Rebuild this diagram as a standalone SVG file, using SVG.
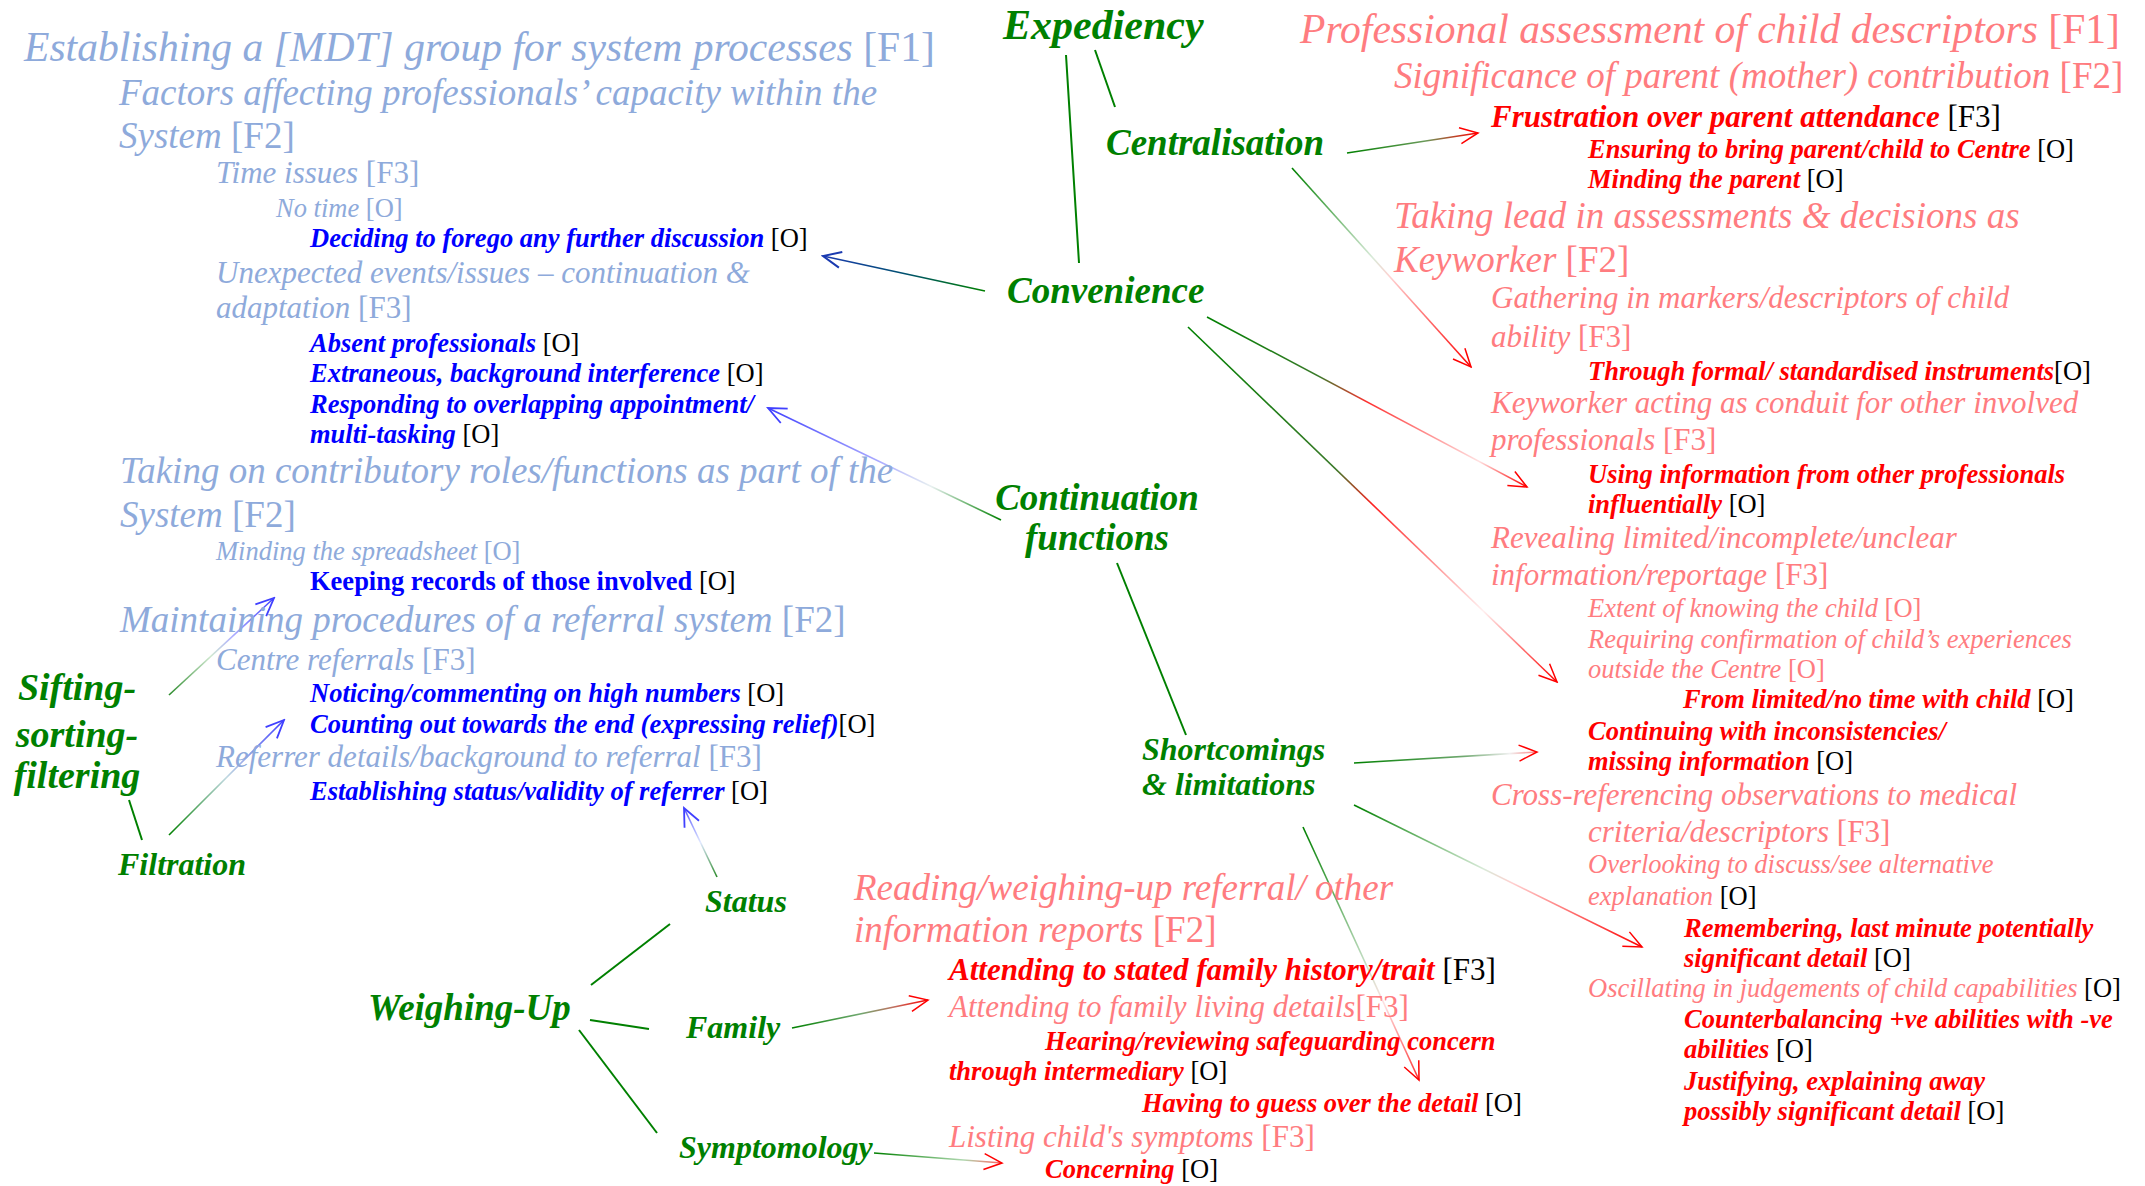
<svg xmlns="http://www.w3.org/2000/svg" width="2145" height="1186" viewBox="0 0 2145 1186">
<style>
text{font-family:"Liberation Serif","Times New Roman",serif;font-style:italic}
.n{font-style:normal;font-weight:normal}
.k{font-style:normal;font-weight:normal;fill:#000}
.lb{fill:#8EAADB}
.lr{fill:#FF7C80}
.f1{font-size:41.6px}
.f2{font-size:37px}
.f3{font-size:31px}
.o{font-size:26.5px}
.bb{fill:#0000FF;font-weight:bold;font-size:26.5px}
.br{fill:#FF0000;font-weight:bold;font-size:26.5px}
.g{fill:#008000;font-weight:bold}
.gl{stroke:#008000;stroke-width:2;fill:none}
.c{stroke-width:1.6;fill:none}
</style>
<defs>
<marker id="aR" markerUnits="userSpaceOnUse" viewBox="-20 -10 22 20" refX="0" refY="0" markerWidth="22" markerHeight="20" orient="auto"><path d="M-18,-8 L0,0 L-18,8" fill="none" stroke="#FF0000" stroke-width="1.5"/></marker>
<marker id="aB" markerUnits="userSpaceOnUse" viewBox="-20 -10 22 20" refX="0" refY="0" markerWidth="22" markerHeight="20" orient="auto"><path d="M-18,-8 L0,0 L-18,8" fill="none" stroke="#4040FF" stroke-width="1.8"/></marker>
<marker id="aD" markerUnits="userSpaceOnUse" viewBox="-20 -10 22 20" refX="0" refY="0" markerWidth="22" markerHeight="20" orient="auto"><path d="M-18,-8 L0,0 L-18,8" fill="none" stroke="#1A3AB0" stroke-width="2"/></marker>
<linearGradient id="g1" gradientUnits="userSpaceOnUse" x1="1347" y1="153" x2="1478" y2="133"><stop offset="0" stop-color="#008000"/><stop offset="0.6" stop-color="#6a9a5a"/><stop offset="1" stop-color="#FF0000"/></linearGradient>
<linearGradient id="g2" gradientUnits="userSpaceOnUse" x1="1292" y1="168" x2="1471" y2="367"><stop offset="0" stop-color="#008000"/><stop offset="0.45" stop-color="#d8ead8"/><stop offset="0.55" stop-color="#ffd0d0"/><stop offset="1" stop-color="#FF0000"/></linearGradient>
<linearGradient id="g3" gradientUnits="userSpaceOnUse" x1="1207" y1="317" x2="1527" y2="487"><stop offset="0" stop-color="#008000"/><stop offset="0.35" stop-color="#3a7a2a"/><stop offset="0.5" stop-color="#FF3030"/><stop offset="0.85" stop-color="#ffe0e0"/><stop offset="1" stop-color="#FF0000"/></linearGradient>
<linearGradient id="g4" gradientUnits="userSpaceOnUse" x1="1188" y1="327" x2="1557" y2="682"><stop offset="0" stop-color="#008000"/><stop offset="0.4" stop-color="#3a7a2a"/><stop offset="0.5" stop-color="#FF2020"/><stop offset="0.8" stop-color="#fff0f0"/><stop offset="1" stop-color="#FF0000"/></linearGradient>
<linearGradient id="g5" gradientUnits="userSpaceOnUse" x1="1354" y1="763" x2="1537" y2="752"><stop offset="0" stop-color="#008000"/><stop offset="0.6" stop-color="#70a870"/><stop offset="0.85" stop-color="#f0f0f0"/><stop offset="1" stop-color="#ff8080"/></linearGradient>
<linearGradient id="g6" gradientUnits="userSpaceOnUse" x1="1354" y1="805" x2="1642" y2="947"><stop offset="0" stop-color="#008000"/><stop offset="0.45" stop-color="#d8ead8"/><stop offset="0.55" stop-color="#ffd0d0"/><stop offset="1" stop-color="#FF0000"/></linearGradient>
<linearGradient id="g7" gradientUnits="userSpaceOnUse" x1="1303" y1="827" x2="1419" y2="1080"><stop offset="0" stop-color="#008000"/><stop offset="0.55" stop-color="#c8e0c8"/><stop offset="0.7" stop-color="#ffe0e0"/><stop offset="1" stop-color="#FF3030"/></linearGradient>
<linearGradient id="g8" gradientUnits="userSpaceOnUse" x1="792" y1="1028" x2="928" y2="1000"><stop offset="0" stop-color="#008000"/><stop offset="0.5" stop-color="#70a870"/><stop offset="0.75" stop-color="#c07060"/><stop offset="1" stop-color="#FF0000"/></linearGradient>
<linearGradient id="g9" gradientUnits="userSpaceOnUse" x1="874" y1="1153" x2="1002" y2="1163"><stop offset="0" stop-color="#008000"/><stop offset="0.7" stop-color="#b0d8b0"/><stop offset="1" stop-color="#FF6060"/></linearGradient>
<linearGradient id="g10" gradientUnits="userSpaceOnUse" x1="985" y1="291" x2="823" y2="256"><stop offset="0" stop-color="#008000"/><stop offset="0.5" stop-color="#005070"/><stop offset="1" stop-color="#1A3AB0"/></linearGradient>
<linearGradient id="g11" gradientUnits="userSpaceOnUse" x1="1001" y1="520" x2="768" y2="408"><stop offset="0" stop-color="#008000"/><stop offset="0.3" stop-color="#e8f0f0"/><stop offset="0.5" stop-color="#b0b0ff"/><stop offset="1" stop-color="#4040FF"/></linearGradient>
<linearGradient id="g12" gradientUnits="userSpaceOnUse" x1="169" y1="695" x2="274" y2="598"><stop offset="0" stop-color="#2a8a2a"/><stop offset="0.4" stop-color="#d0e8d0"/><stop offset="0.6" stop-color="#b0b0ff"/><stop offset="1" stop-color="#4040FF"/></linearGradient>
<linearGradient id="g13" gradientUnits="userSpaceOnUse" x1="169" y1="835" x2="284" y2="720"><stop offset="0" stop-color="#008000"/><stop offset="0.5" stop-color="#c0d8e0"/><stop offset="1" stop-color="#4040FF"/></linearGradient>
<linearGradient id="g14" gradientUnits="userSpaceOnUse" x1="717" y1="877" x2="684" y2="808"><stop offset="0" stop-color="#2a8a2a"/><stop offset="0.5" stop-color="#e0e8ff"/><stop offset="1" stop-color="#5050FF"/></linearGradient>
</defs>

<g id="connectors">
<line class="gl" x1="1066" y1="55" x2="1079" y2="263"/>
<line class="gl" x1="1095" y1="50" x2="1115" y2="107"/>
<line class="gl" x1="1117" y1="563" x2="1186" y2="735"/>
<line class="gl" x1="129" y1="800" x2="142" y2="840"/>
<line class="gl" x1="591" y1="985" x2="670" y2="924"/>
<line class="gl" x1="590" y1="1020" x2="649" y2="1029"/>
<line class="gl" x1="579" y1="1030" x2="657" y2="1133"/>
<line class="c" stroke="url(#g1)" x1="1347" y1="153" x2="1478" y2="133" marker-end="url(#aR)"/>
<line class="c" stroke="url(#g2)" x1="1292" y1="168" x2="1471" y2="367" marker-end="url(#aR)"/>
<line class="c" stroke="url(#g3)" x1="1207" y1="317" x2="1527" y2="487" marker-end="url(#aR)"/>
<line class="c" stroke="url(#g4)" x1="1188" y1="327" x2="1557" y2="682" marker-end="url(#aR)"/>
<line class="c" stroke="url(#g5)" x1="1354" y1="763" x2="1537" y2="752" marker-end="url(#aR)"/>
<line class="c" stroke="url(#g6)" x1="1354" y1="805" x2="1642" y2="947" marker-end="url(#aR)"/>
<line class="c" stroke="url(#g7)" x1="1303" y1="827" x2="1419" y2="1080" marker-end="url(#aR)"/>
<line class="c" stroke="url(#g8)" x1="792" y1="1028" x2="928" y2="1000" marker-end="url(#aR)"/>
<line class="c" stroke="url(#g9)" x1="874" y1="1153" x2="1002" y2="1163" marker-end="url(#aR)"/>
<line class="c" stroke="url(#g10)" stroke-width="2.2" x1="985" y1="291" x2="823" y2="256" marker-end="url(#aD)"/>
<line class="c" stroke="url(#g11)" x1="1001" y1="520" x2="768" y2="408" marker-end="url(#aB)"/>
<line class="c" stroke="url(#g12)" x1="169" y1="695" x2="274" y2="598" marker-end="url(#aB)"/>
<line class="c" stroke="url(#g13)" x1="169" y1="835" x2="284" y2="720" marker-end="url(#aB)"/>
<line class="c" stroke="url(#g14)" x1="717" y1="877" x2="684" y2="808" marker-end="url(#aB)"/>
</g>

<g id="node-establishing-mdt">
<text class="lb f1" x="24" y="61">Establishing a [MDT] group for system processes <tspan class="n">[F1]</tspan></text>
<text class="lb f2" x="119" y="105">Factors affecting professionals’ capacity within the</text>
<text class="lb f2" x="119" y="148">System <tspan class="n">[F2]</tspan></text>
<text class="lb f3" x="216" y="183">Time issues <tspan class="n">[F3]</tspan></text>
<text class="lb o" x="276" y="217">No time <tspan class="n">[O]</tspan></text>
<text class="bb" x="310" y="247">Deciding to forego any further discussion<tspan class="k"> [O]</tspan></text>
<text class="lb f3" x="216" y="283">Unexpected events/issues – continuation &amp;</text>
<text class="lb f3" x="216" y="318">adaptation <tspan class="n">[F3]</tspan></text>
<text class="bb" x="310" y="352">Absent professionals<tspan class="k"> [O]</tspan></text>
<text class="bb" x="310" y="382">Extraneous, background interference<tspan class="k"> [O]</tspan></text>
<text class="bb" x="310" y="413">Responding to overlapping appointment/</text>
<text class="bb" x="310" y="443">multi-tasking<tspan class="k"> [O]</tspan></text>
<text class="lb f2" x="120" y="483">Taking on contributory roles/functions as part of the</text>
<text class="lb f2" x="120" y="527">System <tspan class="n">[F2]</tspan></text>
<text class="lb o" x="216" y="560">Minding the spreadsheet <tspan class="n">[O]</tspan></text>
<text class="bb" x="310" y="590" style="font-style:normal">Keeping records of those involved<tspan class="k"> [O]</tspan></text>
<text class="lb f2" x="120" y="632">Maintaining procedures of a referral system <tspan class="n">[F2]</tspan></text>
<text class="lb f3" x="216" y="670">Centre referrals <tspan class="n">[F3]</tspan></text>
<text class="bb" x="310" y="702">Noticing/commenting on high numbers<tspan class="k"> [O]</tspan></text>
<text class="bb" x="310" y="733">Counting out towards the end (expressing relief)<tspan class="k">[O]</tspan></text>
<text class="lb f3" x="216" y="767">Referrer details/background to referral <tspan class="n">[F3]</tspan></text>
<text class="bb" x="310" y="800">Establishing status/validity of referrer<tspan class="k"> [O]</tspan></text>
</g>

<g id="node-professional-assessment">
<text class="lr f1" x="1300" y="43">Professional assessment of child descriptors <tspan class="n">[F1]</tspan></text>
<text class="lr f2" x="1394" y="88">Significance of parent (mother) contribution <tspan class="n">[F2]</tspan></text>
<text class="br" style="font-size:31px" x="1491" y="127">Frustration over parent attendance<tspan class="k"> [F3]</tspan></text>
<text class="br" x="1588" y="158">Ensuring to bring parent/child to Centre<tspan class="k"> [O]</tspan></text>
<text class="br" x="1588" y="188">Minding the parent<tspan class="k"> [O]</tspan></text>
<text class="lr f2" x="1394" y="228">Taking lead in assessments &amp; decisions as</text>
<text class="lr f2" x="1394" y="272">Keyworker <tspan class="n">[F2]</tspan></text>
<text class="lr f3" x="1491" y="308">Gathering in markers/descriptors of child</text>
<text class="lr f3" x="1491" y="347">ability <tspan class="n">[F3]</tspan></text>
<text class="br" x="1588" y="380">Through formal/ standardised instruments<tspan class="k">[O]</tspan></text>
<text class="lr f3" x="1491" y="413">Keyworker acting as conduit for other involved</text>
<text class="lr f3" x="1491" y="450">professionals <tspan class="n">[F3]</tspan></text>
<text class="br" x="1588" y="483">Using information from other professionals</text>
<text class="br" x="1588" y="513">influentially<tspan class="k"> [O]</tspan></text>
<text class="lr f3" x="1491" y="548">Revealing limited/incomplete/unclear</text>
<text class="lr f3" x="1491" y="585">information/reportage <tspan class="n">[F3]</tspan></text>
<text class="lr o" x="1588" y="617">Extent of knowing the child <tspan class="n">[O]</tspan></text>
<text class="lr o" x="1588" y="648">Requiring confirmation of child’s experiences</text>
<text class="lr o" x="1588" y="678">outside the Centre <tspan class="n">[O]</tspan></text>
<text class="br" x="1683" y="708">From limited/no time with child<tspan class="k"> [O]</tspan></text>
<text class="br" x="1588" y="740">Continuing with inconsistencies/</text>
<text class="br" x="1588" y="770">missing information<tspan class="k"> [O]</tspan></text>
<text class="lr f3" x="1491" y="805">Cross-referencing observations to medical</text>
<text class="lr f3" x="1588" y="842">criteria/descriptors <tspan class="n">[F3]</tspan></text>
<text class="lr o" x="1588" y="873">Overlooking to discuss/see alternative</text>
<text class="lr o" x="1588" y="905">explanation<tspan class="k"> [O]</tspan></text>
<text class="br" x="1684" y="937">Remembering, last minute potentially</text>
<text class="br" x="1684" y="967">significant detail<tspan class="k"> [O]</tspan></text>
<text class="lr o" x="1588" y="997">Oscillating in judgements of child capabilities<tspan class="k"> [O]</tspan></text>
<text class="br" x="1684" y="1028">Counterbalancing +ve abilities with -ve</text>
<text class="br" x="1684" y="1058">abilities<tspan class="k"> [O]</tspan></text>
<text class="br" x="1684" y="1090">Justifying, explaining away</text>
<text class="br" x="1684" y="1120">possibly significant detail<tspan class="k"> [O]</tspan></text>
</g>

<g id="node-reading-weighing">
<text class="lr f2" x="854" y="900">Reading/weighing-up referral/ other</text>
<text class="lr f2" x="854" y="942">information reports <tspan class="n">[F2]</tspan></text>
<text class="br" style="font-size:31px" x="949" y="980">Attending to stated family history/trait<tspan class="k"> [F3]</tspan></text>
<text class="lr f3" x="949" y="1017">Attending to family living details<tspan class="n">[F3]</tspan></text>
<text class="br" x="1045" y="1050">Hearing/reviewing safeguarding concern</text>
<text class="br" x="949" y="1080">through intermediary<tspan class="k"> [O]</tspan></text>
<text class="br" x="1142" y="1112">Having to guess over the detail<tspan class="k"> [O]</tspan></text>
<text class="lr f3" x="949" y="1147">Listing child's symptoms <tspan class="n">[F3]</tspan></text>
<text class="br" x="1045" y="1178">Concerning<tspan class="k"> [O]</tspan></text>
</g>

<g id="node-expediency"><text class="g" style="font-size:42px" x="1003" y="39">Expediency</text></g>
<g id="node-centralisation"><text class="g" style="font-size:37px" x="1106" y="155">Centralisation</text></g>
<g id="node-convenience"><text class="g" style="font-size:37px" x="1007" y="303">Convenience</text></g>
<g id="node-continuation"><text class="g" style="font-size:37px" text-anchor="middle" x="1097" y="510">Continuation</text><text class="g" style="font-size:37px" text-anchor="middle" x="1097" y="550">functions</text></g>
<g id="node-shortcomings"><text class="g" style="font-size:32px" x="1142" y="760">Shortcomings</text><text class="g" style="font-size:32px" x="1142" y="795">&amp; limitations</text></g>
<g id="node-sifting"><text class="g" style="font-size:38px" text-anchor="middle" x="77" y="700">Sifting-</text><text class="g" style="font-size:38px" text-anchor="middle" x="77" y="747">sorting-</text><text class="g" style="font-size:38px" text-anchor="middle" x="77" y="788">filtering</text></g>
<g id="node-filtration"><text class="g" style="font-size:32px" x="118" y="875">Filtration</text></g>
<g id="node-status"><text class="g" style="font-size:32px" x="705" y="912">Status</text></g>
<g id="node-weighing-up"><text class="g" style="font-size:37px" x="368" y="1020">Weighing-Up</text></g>
<g id="node-family"><text class="g" style="font-size:32px" x="686" y="1038">Family</text></g>
<g id="node-symptomology"><text class="g" style="font-size:32px" x="679" y="1158">Symptomology</text></g>
</svg>
